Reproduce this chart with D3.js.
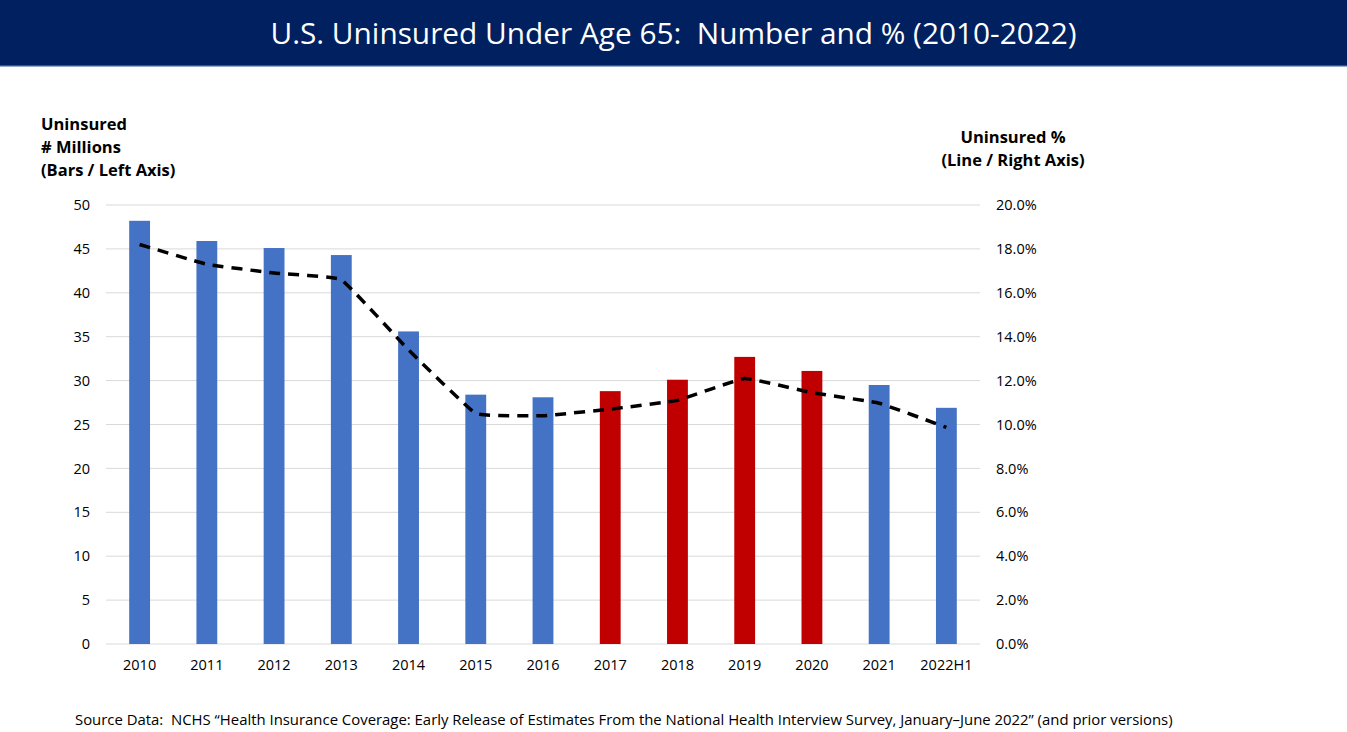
<!DOCTYPE html>
<html>
<head>
<meta charset="utf-8">
<script src="https://d3js.org/d3.v7.min.js"></script>
<style>
  body { margin: 0; background: #fff; }
  text { font-family: "Open Sans", "Noto Sans", sans-serif; white-space: pre; }
</style>
</head>
<body>
<div id="vis"></div>
<script>
  // data
  var years = ["2010", "2011", "2012", "2013", "2014", "2015", "2016", "2017", "2018", "2019", "2020", "2021", "2022H1"]
  var uninsuredMillions = [48.2, 45.9, 45.1, 44.3, 35.6, 28.4, 28.1, 28.8, 30.1, 32.7, 31.1, 29.5, 26.9]
  var uninsuredPct = [18.2, 17.3, 16.9, 16.6, 13.4, 10.5, 10.4, 10.7, 11.1, 12.1, 11.45, 10.97, 9.87]
  // bars shown in red in the original
  var redYears = ["2017", "2018", "2019", "2020"]
  var leftTicks = [0, 5, 10, 15, 20, 25, 30, 35, 40, 45, 50]
  var rightTicks = [0, 2, 4, 6, 8, 10, 12, 14, 16, 18, 20]

  var W = 1347, H = 732
  var margin = {top: 205, right: 367, bottom: 88, left: 106}
  var width = W - margin.left - margin.right,
      height = H - margin.top - margin.bottom

  var root = d3.select("#vis").append("svg")
    .attr("width", W)
    .attr("height", H)

  // title banner
  root.append("rect")
    .attr("x", 0).attr("y", 0)
    .attr("width", W).attr("height", 66)
    .attr("fill", "#002060")
  root.append("rect")
    .attr("x", 0).attr("y", 65)
    .attr("width", W).attr("height", 1.5)
    .attr("fill", "#2f5597")
  root.append("text")
    .attr("x", W / 2).attr("y", 44)
    .attr("text-anchor", "middle")
    .attr("fill", "white")
    .style("font-size", "29.8px")
    .text("U.S. Uninsured Under Age 65:  Number and % (2010-2022)")

  var svg = root.append("g")
    .attr("transform", "translate(" + margin.left + "," + margin.top + ")")

  var x = d3.scaleBand()
    .domain(years)
    .range([0, width])
    .paddingInner(0.69)
    .paddingOuter(0.345)

  var yLeft = d3.scaleLinear().domain([0, 50]).range([height, 0])
  var yRight = d3.scaleLinear().domain([0, 20]).range([height, 0])

  // gridlines
  svg.append("g")
    .selectAll("line")
    .data(leftTicks)
    .enter()
    .append("line")
      .attr("x1", 0)
      .attr("x2", width)
      .attr("y1", function(d) { return yLeft(d) })
      .attr("y2", function(d) { return yLeft(d) })
      .attr("stroke", "#d9d9d9")
      .attr("stroke-width", 1)

  // left axis
  var gl = svg.append("g")
    .attr("transform", "translate(-13,0)")
    .call(d3.axisLeft(yLeft).tickValues(leftTicks).tickSize(0))
  gl.select(".domain").remove()
  gl.selectAll("text")
    .style("font-size", "14.5px")
    .style("fill", "#000")
    .attr("font-family", null)

  // right axis
  var gr = svg.append("g")
    .attr("transform", "translate(" + (width + 13) + ",0)")
    .call(d3.axisRight(yRight).tickValues(rightTicks).tickSize(0)
      .tickFormat(function(d) { return d.toFixed(1) + "%" }))
  gr.select(".domain").remove()
  gr.selectAll("text")
    .style("font-size", "14.5px")
    .style("fill", "#000")
    .attr("font-family", null)

  // bottom axis
  var gb = svg.append("g")
    .attr("transform", "translate(0," + height + ")")
    .call(d3.axisBottom(x).tickSize(0).tickPadding(16))
  gb.select(".domain").remove()
  gb.selectAll("text")
    .style("font-size", "14.5px")
    .style("fill", "#000")
    .attr("font-family", null)

  // bars
  svg.selectAll("rect.bar")
    .data(years)
    .enter()
    .append("rect")
      .attr("class", "bar")
      .attr("x", function(d) { return x(d) })
      .attr("y", function(d, i) { return yLeft(uninsuredMillions[i]) })
      .attr("width", x.bandwidth())
      .attr("height", function(d, i) { return height - yLeft(uninsuredMillions[i]) })
      .attr("fill", function(d) { return redYears.indexOf(d) >= 0 ? "#c00000" : "#4472c4" })

  // dashed percentage line
  var line = d3.line()
    .x(function(d, i) { return x(years[i]) + x.bandwidth() / 2 })
    .y(function(d) { return yRight(d) })
    .curve(d3.curveCardinal.tension(0.75))

  svg.append("path")
    .datum(uninsuredPct)
    .attr("d", line)
    .attr("fill", "none")
    .attr("stroke", "#000")
    .attr("stroke-width", 3.5)
    .attr("stroke-dasharray", "11,8")

  // axis headers
  var leftHead = ["Uninsured", "# Millions", "(Bars / Left Axis)"]
  root.append("text")
    .attr("x", 41).attr("y", 130)
    .style("font-size", "16.5px")
    .style("font-weight", "bold")
    .selectAll("tspan")
    .data(leftHead)
    .enter()
    .append("tspan")
      .attr("x", 41)
      .attr("dy", function(d, i) { return i == 0 ? 0 : 23 })
      .text(function(d) { return d })

  var rightHead = ["Uninsured %", "(Line / Right Axis)"]
  root.append("text")
    .attr("x", 1013).attr("y", 143)
    .attr("text-anchor", "middle")
    .style("font-size", "16.5px")
    .style("font-weight", "bold")
    .selectAll("tspan")
    .data(rightHead)
    .enter()
    .append("tspan")
      .attr("x", 1013)
      .attr("dy", function(d, i) { return i == 0 ? 0 : 23 })
      .text(function(d) { return d })

  // source note
  root.append("text")
    .attr("x", 75).attr("y", 725)
    .style("font-size", "14.9px")
    .text("Source Data:  NCHS \u201cHealth Insurance Coverage: Early Release of Estimates From the National Health Interview Survey, January\u2013June 2022\u201d (and prior versions)")
</script>
</body>
</html>
